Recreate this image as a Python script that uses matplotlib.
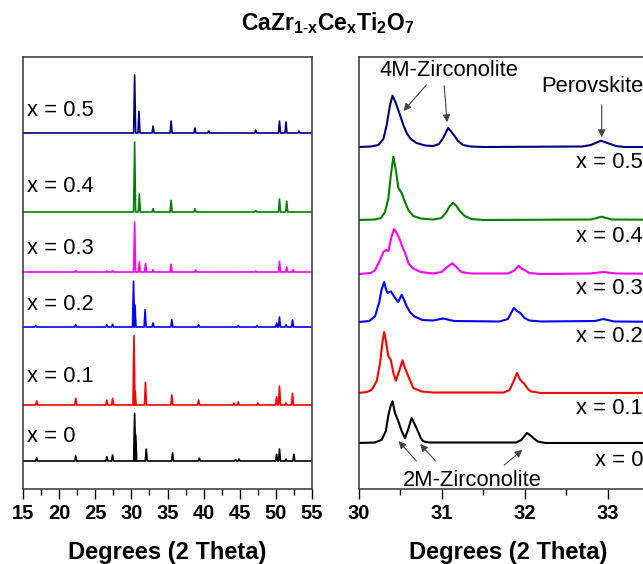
import numpy as np
import matplotlib
matplotlib.use("Agg")
from matplotlib import pyplot as plt
from matplotlib.ticker import MultipleLocator

plt.rcParams['font.family'] = ['Liberation Sans', 'DejaVu Sans']
plt.rcParams['mathtext.fontset'] = 'custom'
plt.rcParams['mathtext.rm'] = 'Liberation Sans'
plt.rcParams['mathtext.bf'] = 'Liberation Sans:bold'

# sample labels, bottom to top
labels = ["x = 0", "x = 0.1", "x = 0.2", "x = 0.3", "x = 0.4", "x = 0.5"]
colors = ["black", "#ff0000", "#0000ff", "#ff00ff", "#008000", "#000080"]

# left panel: peaks (2theta, height), full 15-55 scan
wide_0 = [(16.9, 3.3), (22.3, 5), (26.6, 4.3), (27.4, 6), (30.45, 47.7), (30.6, 26),
          (32.06, 12), (35.7, 8.3), (39.4, 2.7), (44.4, 1.5), (44.9, 2), (50.1, 6.7),
          (50.5, 12), (51.4, 2), (52.5, 6.7)]
wide_01 = [(16.9, 4), (22.3, 6.7), (26.6, 5), (27.4, 6.7), (30.36, 69.3), (30.52, 14),
           (31.95, 22.7), (35.6, 10), (39.3, 5), (44.2, 2), (44.8, 3), (47.5, 2),
           (50.1, 8.3), (50.5, 19), (51.4, 2), (52.3, 11.7)]
wide_02 = [(16.75, 1.5), (22.3, 2.3), (26.6, 2.3), (27.4, 2.7), (30.3, 45.7), (30.5, 22),
           (31.9, 17.3), (33.0, 4), (35.6, 7.3), (39.3, 2.3), (44.8, 1.5), (47.4, 1.5),
           (50.1, 4), (50.5, 10), (51.4, 2.3), (52.3, 7.3)]
wide_03 = [(22.3, 1.5), (26.6, 1), (27.4, 1.5), (30.45, 50), (31.1, 10), (31.97, 8.3),
           (33.0, 2.3), (35.5, 7.7), (38.9, 2), (47.2, 1), (50.5, 10.7), (51.5, 5),
           (52.4, 2.3)]
wide_04 = [(30.45, 70), (31.1, 18), (33.0, 3.3), (35.5, 11.7), (38.8, 3.3), (47.2, 1.5),
           (50.5, 13), (51.5, 10.7)]
wide_05 = [(30.45, 58), (31.05, 21.7), (33.0, 7), (35.5, 12), (38.8, 5), (40.7, 2),
           (47.2, 3), (50.5, 12), (51.4, 11), (53.2, 2)]
wide_scans = [wide_0, wide_01, wide_02, wide_03, wide_04, wide_05]

# right panel: zoomed 30-34 scan, (2theta, intensity) points
zoom_0 = [(30.0, 0), (30.2, 0.5), (30.28, 3.3), (30.33, 12), (30.36, 28), (30.39, 38),
          (30.41, 41.7), (30.44, 30), (30.48, 21.7), (30.52, 12), (30.56, 5), (30.6, 14),
          (30.64, 25), (30.67, 20), (30.72, 11), (30.75, 5), (30.78, 1.7), (30.85, 0.5),
          (31.9, 0.5), (31.96, 3), (32.03, 10), (32.08, 7), (32.12, 4), (32.16, 1.5),
          (32.25, 0), (34.0, 0)]
zoom_01 = [(30.0, 0), (30.1, 1), (30.16, 3.3), (30.22, 12), (30.26, 30), (30.29, 52),
           (30.31, 61), (30.33, 52), (30.36, 36.7), (30.39, 33), (30.42, 20), (30.45, 12.3),
           (30.49, 22), (30.53, 32.7), (30.56, 25), (30.6, 16.7), (30.63, 11), (30.66, 5),
           (30.76, 1.5), (30.9, 0.5), (31.75, 0.5), (31.82, 3), (31.87, 12), (31.91, 20),
           (31.95, 13), (32.0, 9), (32.04, 4), (32.08, 1.5), (32.2, 0), (34.0, 0)]
zoom_02 = [(30.0, 0), (30.13, 1), (30.2, 5.7), (30.25, 20), (30.28, 33), (30.31, 40),
           (30.33, 33), (30.35, 29), (30.39, 30.7), (30.44, 24), (30.48, 20), (30.52, 27.3),
           (30.55, 22), (30.58, 15.7), (30.62, 10), (30.67, 5.7), (30.77, 2), (30.9, 1.5),
           (31.02, 3.5), (31.15, 1), (31.7, 0.5), (31.8, 3), (31.87, 14), (31.91, 11),
           (31.95, 9), (32.0, 4), (32.06, 1.5), (32.2, 0.5), (32.85, 1), (32.95, 3),
           (33.08, 0.5), (34.0, 0)]
zoom_03 = [(30.0, 0), (30.15, 1), (30.2, 4), (30.26, 14), (30.3, 22), (30.33, 24),
           (30.36, 23), (30.4, 38), (30.43, 45), (30.46, 41), (30.49, 36), (30.53, 27),
           (30.57, 19), (30.6, 11), (30.65, 6), (30.75, 2), (30.9, 0.5), (31.0, 2),
           (31.07, 7), (31.13, 10.7), (31.18, 7), (31.24, 2), (31.35, 0.5), (31.8, 0.5),
           (31.87, 3), (31.93, 8.3), (31.97, 5), (32.0, 4), (32.06, 1), (32.2, 0),
           (32.8, 0.5), (32.95, 2), (33.1, 0.5), (34.0, 0)]
zoom_04 = [(30.0, 0), (30.2, 0.5), (30.27, 2), (30.32, 8), (30.36, 22), (30.39, 45),
           (30.42, 63.3), (30.45, 50), (30.48, 32), (30.52, 27), (30.56, 18), (30.6, 10),
           (30.66, 4), (30.75, 1.5), (30.9, 0.5), (31.0, 2), (31.06, 8), (31.1, 14),
           (31.14, 17.3), (31.18, 14), (31.22, 9), (31.28, 4), (31.36, 1), (31.5, 0),
           (32.8, 0.5), (32.93, 3.3), (33.05, 0.5), (34.0, 0)]
zoom_05 = [(30.0, 0), (30.15, 0.5), (30.24, 2), (30.3, 8), (30.34, 22), (30.38, 42),
           (30.41, 51.3), (30.45, 44), (30.5, 32), (30.54, 22), (30.58, 14), (30.63, 8),
           (30.7, 4), (30.8, 1.5), (30.9, 1), (30.97, 3), (31.02, 9), (31.08, 19),
           (31.12, 15), (31.16, 10.7), (31.2, 6), (31.26, 2), (31.35, 0.5), (31.5, 0),
           (32.7, 0.5), (32.8, 2), (32.92, 6.3), (33.0, 4), (33.1, 1), (33.2, 0), (34.0, 0)]
zoom_scans = [zoom_0, zoom_01, zoom_02, zoom_03, zoom_04, zoom_05]

wide_offsets = [28, 84, 162, 217, 277, 356]
zoom_offsets = [46, 96, 167, 215, 269, 342]
wide_label_y = [52, 112, 184, 240, 302, 378]
zoom_label_y = [29, 81, 152, 201, 252, 326]

fig = plt.figure(figsize=(6.43, 5.64), dpi=100)
ax1 = fig.add_axes([23 / 643, 75 / 564, 289 / 643, 432 / 564])
ax2 = fig.add_axes([358.5 / 643, 75 / 564, 3.6 * 83 / 643, 432 / 564])

# left panel: each peak drawn as a narrow spike on the baseline
hw = 0.14
for scan, off, c in zip(wide_scans, wide_offsets, colors):
    xs, ys = [15], [off]
    for pos, h in scan:
        xs += [pos - hw, pos, pos + hw]
        ys += [off, off + h, off]
    xs.append(55)
    ys.append(off)
    ax1.plot(xs, ys, color=c, lw=1.2)

for lab, y in zip(labels, wide_label_y):
    ax1.text(15.55, y, lab, fontsize=15.8, va='center', ha='left')

for scan, off, c in zip(zoom_scans, zoom_offsets, colors):
    arr = np.array(scan)
    ax2.plot(arr[:, 0], arr[:, 1] + off, color=c, lw=1.5)

for lab, y in zip(labels, zoom_label_y):
    ax2.text(33.43, y, lab, fontsize=15.8, va='center', ha='right')

ax1.set_xlim(15, 55)
ax1.set_ylim(0, 432)
ax1.xaxis.set_major_locator(MultipleLocator(5))
ax1.xaxis.set_minor_locator(MultipleLocator(2.5))

ax2.set_xlim(30, 33.6)
ax2.set_ylim(0, 432)
ax2.xaxis.set_major_locator(MultipleLocator(1))
ax2.xaxis.set_minor_locator(MultipleLocator(0.5))

for ax in (ax1, ax2):
    ax.set_yticks([])
    ax.tick_params(axis='x', which='major', length=7, width=1.0, direction='out',
                   labelsize=14.5, pad=4)
    ax.tick_params(axis='x', which='minor', length=4, width=1.0, direction='out')
    ax.tick_params(axis='x', top=False)
    for lbl in ax.get_xticklabels():
        lbl.set_fontweight('bold')
    for sp in ax.spines.values():
        sp.set_linewidth(1.1)
        sp.set_color('#333333')
    ax.set_xlabel("Degrees (2 Theta)", fontsize=17, fontweight='bold', labelpad=13)

# phase annotations
arw = dict(arrowstyle='-|>', color='#444444', lw=0.8, mutation_scale=11)
ax2.text(31.09, 418, "4M-Zirconolite", fontsize=15.8, ha='center', va='center')
ax2.annotate("", xy=(30.52, 376), xytext=(30.84, 406), arrowprops=arw)
ax2.annotate("", xy=(31.07, 364), xytext=(31.03, 406), arrowprops=arw)
ax2.text(32.82, 402, "Perovskite", fontsize=15.8, ha='center', va='center')
ax2.annotate("", xy=(32.93, 349), xytext=(32.93, 387), arrowprops=arw)
ax2.text(31.37, 9, "2M-Zirconolite", fontsize=15.8, ha='center', va='center')
ax2.annotate("", xy=(30.46, 50), xytext=(30.72, 26), arrowprops=arw)
ax2.annotate("", xy=(30.72, 47), xytext=(30.95, 26), arrowprops=arw)
ax2.annotate("", xy=(32.0, 41), xytext=(31.73, 22), arrowprops=arw)

fig.text(328 / 643, 1 - 23 / 564, r'$\mathbf{CaZr_{1\text{-}x}Ce_{x}Ti_{2}O_{7}}$',
         fontsize=16.5, ha='center', va='center')

fig.savefig("out.png", dpi=100)
